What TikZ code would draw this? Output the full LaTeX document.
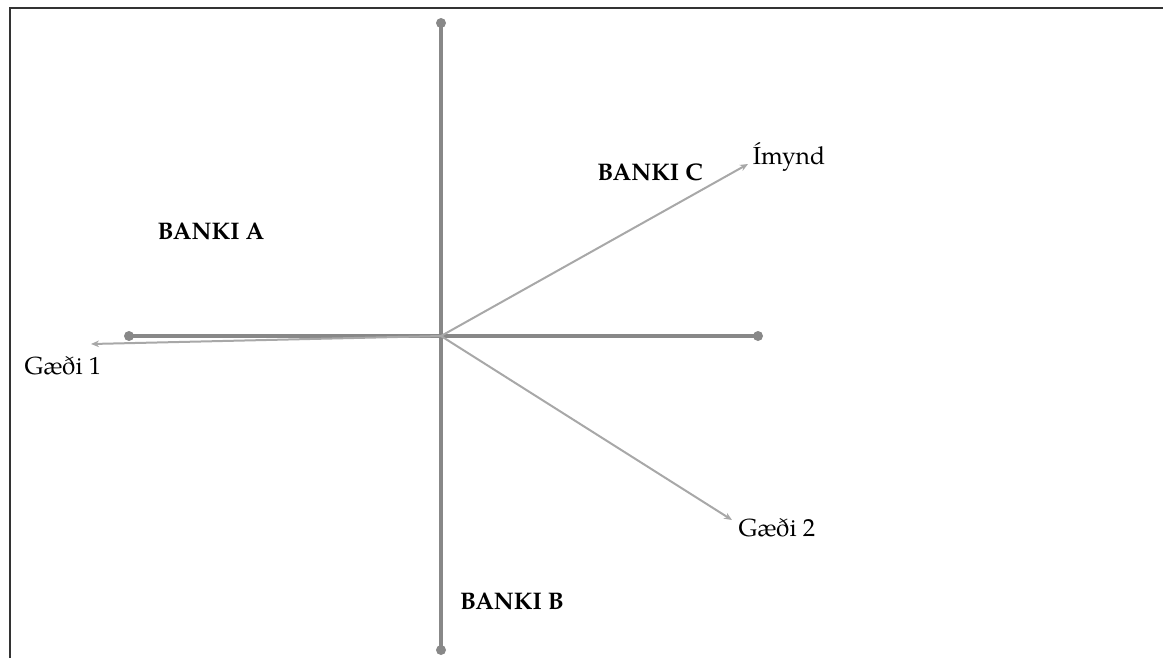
\documentclass[tikz,border=0pt]{standalone}
\usepackage{fontspec}
\setmainfont{TeX Gyre Pagella}
\usetikzlibrary{arrows.meta}
\definecolor{axisgray}{HTML}{888888}
\definecolor{vecgray}{HTML}{A8A8A8}
\definecolor{framegray}{HTML}{333333}
\begin{document}
\begin{tikzpicture}[x=0.75pt,y=-0.75pt,
  axis/.style={draw=axisgray,line width=2.4pt},
  enddot/.style={circle,fill=axisgray,inner sep=0pt,minimum size=7.5pt},
  vector/.style={draw=vecgray,line width=1.5pt,-{Stealth[length=6pt,width=5pt]}},
  bank/.style={font=\fontsize{18}{21}\selectfont\bfseries,inner sep=0pt},
  varlabel/.style={font=\fontsize{18.5}{21}\selectfont,inner sep=0pt},
  frameline/.style={draw=framegray,line width=1.1pt}]
\useasboundingbox (0,0) rectangle (1163,658);
% frame edges
\draw[frameline] (10,658) -- (10,8) -- (1163,8);
% origin and axis ends
\coordinate (O) at (441,336);
\node[enddot] (top) at (441,23) {};
\node[enddot] (bot) at (441,650) {};
\node[enddot] (lft) at (129,336) {};
\node[enddot] (rgt) at (758,336) {};
\draw[axis] (top.center) -- (bot.center);
\draw[axis] (lft.center) -- (rgt.center);
% variable vectors
\coordinate (vI) at (748,164);
\coordinate (vG1) at (91,344);
\coordinate (vG2) at (732,520);
\draw[vector] (O) -- (vI);
\draw[vector] (O) -- (vG1);
\draw[vector] (O) -- (vG2);
% labels
\node[varlabel] (lI) at (789,157) {Ímynd};
\node[varlabel] (lG1) at (63,366) {Gæði 1};
\node[varlabel] (lG2) at (777,528) {Gæði 2};
\node[bank] (bA) at (211,231) {BANKI A};
\node[bank] (bB) at (512,601) {BANKI B};
\node[bank] (bC) at (650,172) {BANKI C};
\end{tikzpicture}
\end{document}
